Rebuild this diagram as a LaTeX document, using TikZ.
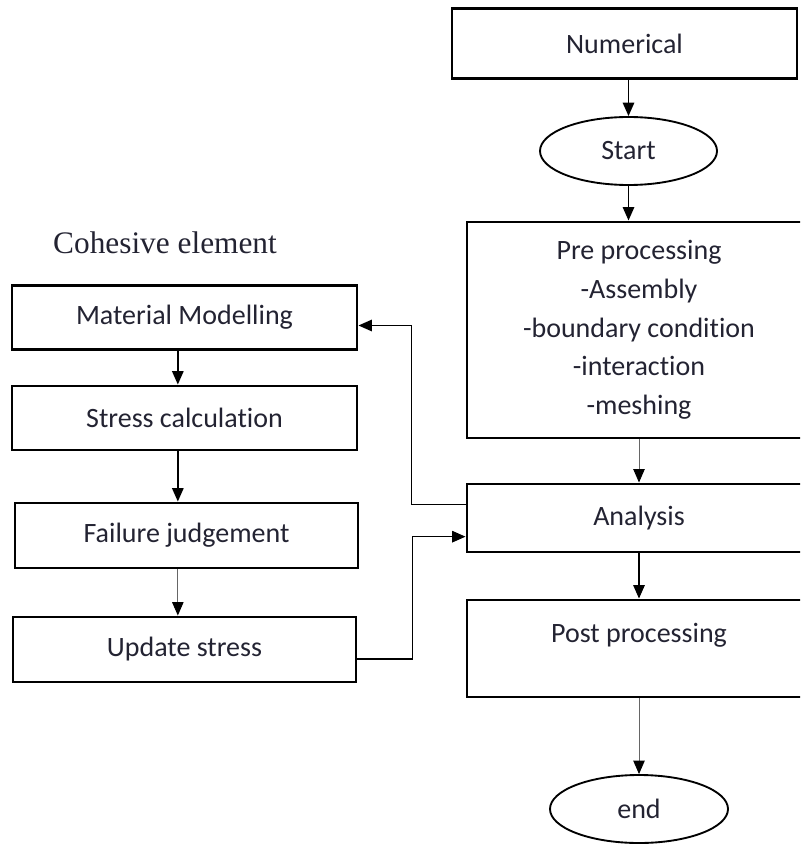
\documentclass[tikz,border=0pt]{standalone}
\usepackage{fontspec}
\setmainfont{Carlito}[Ligatures=NoCommon]
\newfontfamily\timesfont{Liberation Serif}
\usetikzlibrary{arrows.meta,shapes.geometric}
\definecolor{ink}{RGB}{35,35,50}

\begin{document}
\begin{tikzpicture}[x=0.75pt,y=-0.75pt,
  box/.style={draw,line width=2.2pt,minimum width=258pt,inner sep=0pt,text=ink,
    font=\fontsize{21}{29}\selectfont,align=center},
  oval/.style={draw,ellipse,line width=1.4pt,inner sep=0pt,text=ink,
    font=\fontsize{21}{29}\selectfont},
  arrow/.style={line width=1.2pt,-{Triangle[length=10pt,width=8.5pt]}},
  thinarrow/.style={line width=0.7pt,draw=black!60,-{Triangle[length=10pt,width=8.5pt,black]}}]
  \useasboundingbox (0,0) rectangle (800,845);
  \clip (0,0) rectangle (800,845);
  % main column
  \node[box,minimum width=258.75pt,minimum height=52.5pt] (num) at (624.5,43.5) {Numerical};
  \node[oval,minimum width=132.75pt,minimum height=51pt] (start) at (628.5,151) {Start};
  \node[box,minimum height=162pt] (pre) at (639,330)
     {Pre processing\\-Assembly\\-boundary condition\\-interaction\\-meshing};
  \node[box,minimum height=51pt] (ana) at (639,518) {Analysis};
  \node[box,minimum height=72.75pt,text height=14pt,text depth=23pt] (post) at (639,648.5) {Post processing};
  \node[oval,minimum width=133.5pt,minimum height=51pt] (end) at (639,809) {end};
  \draw[arrow] (num.south -| start) -- (start);
  \draw[arrow] (start) -- (start |- pre.north);
  \draw[thinarrow] (pre) -- (ana);
  \draw[arrow] (ana) -- (post);
  \draw[thinarrow] (post) -- (end);
  % cohesive element column
  \node[text=ink,font=\timesfont\fontsize{23.5}{28}\selectfont] (title) at (165,243) {Cohesive element};
  \node[box,minimum width=258.75pt,minimum height=47.5pt] (mat) at (184.5,317.5) {Material Modelling};
  \node[box,minimum width=258.75pt,minimum height=48pt] (stress) at (184.5,418) {Stress calculation};
  \node[box,minimum width=257.25pt,minimum height=48.75pt] (fail) at (186.5,535.5) {Failure judgement};
  \node[box,minimum width=257.25pt,minimum height=48.75pt] (upd) at (184.5,649.5) {Update stress};
  \draw[arrow] ([xshift=-5pt]mat.south) -- ([xshift=-5pt]stress.north);
  \draw[arrow] ([xshift=-5pt]stress.south) -- ([xshift=-5pt]stress.south |- fail.north);
  \draw[thinarrow] ([xshift=-5pt]upd.north |- fail.south) -- ([xshift=-5pt]upd.north);
  % links between the two columns
  \draw[arrow] ([yshift=10pt]ana.west) -- ++(-54,0) |- ([yshift=-6pt]mat.east);
  \draw[arrow] ([yshift=-7pt]upd.east) -- ++(55,0) |- ([yshift=-14pt]ana.west);
\end{tikzpicture}
\end{document}
